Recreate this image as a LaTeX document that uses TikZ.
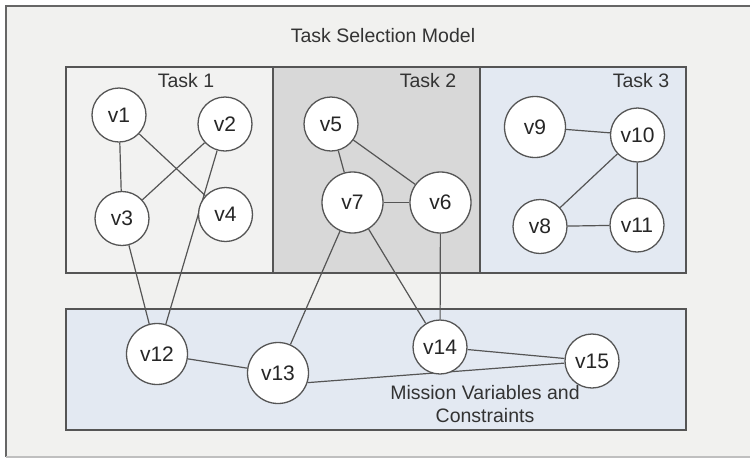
\documentclass[tikz,border=0pt]{standalone}
\usepackage{fontspec}
\setmainfont{Liberation Sans}
\pgfdeclarelayer{bg}
\pgfdeclarelayer{edges}
\pgfsetlayers{bg,edges,main}
\definecolor{framebg}{HTML}{F1F1EF}
\definecolor{taskone}{HTML}{F2F2F1}
\definecolor{tasktwo}{HTML}{D8D8D8}
\definecolor{bluebox}{HTML}{E3E9F2}
\definecolor{boxline}{HTML}{555555}
\definecolor{txt}{HTML}{333333}
\tikzset{
  vnode/.style={circle, draw=boxline, fill=white, line width=1.3pt, inner sep=0pt,
    text=black!85, font=\fontsize{21}{25}\selectfont},
  rs/.style={vnode, minimum size=54pt},
  rb/.style={vnode, minimum size=61pt},
  edge/.style={draw=boxline, line width=1.2pt},
  region/.style={draw=boxline, line width=1.5pt},
  lbl/.style={text=txt, font=\fontsize{19.5}{23}\selectfont, inner sep=0pt}
}
\begin{document}
\begin{tikzpicture}[x=1pt, y=-1pt]
\useasboundingbox (0,0) rectangle (750,459);
\begin{pgfonlayer}{bg}
  \fill[white] (0,0) rectangle (750,459);
  \fill[framebg] (6,6) rectangle (750,457);
  \draw[draw=black!60, line width=1.5pt] (750,6) -- (6,6) -- (6,457);
  \draw[draw=black!25, line width=1.2pt] (6,457) -- (750,457);
  \fill[taskone] (66,67) rectangle (273,273);
  \fill[tasktwo] (273,67) rectangle (480,273);
  \fill[bluebox] (480,67) rectangle (686,273);
  \draw[region] (66,67) rectangle (686,273);
  \draw[region] (273,67) -- (273,273);
  \draw[region] (480,67) -- (480,273);
  \fill[bluebox] (66,309) rectangle (686,430);
  \draw[region] (66,309) rectangle (686,430);
\end{pgfonlayer}

\node[lbl] (title) at (383,35.5) {Task Selection Model};
\node[lbl] (t1) at (186,80.5) {Task 1};
\node[lbl] (t2) at (428,80.5) {Task 2};
\node[lbl] (t3) at (641,80.5) {Task 3};
\node[lbl, align=center] (mv) at (485,404) {Mission Variables and\\Constraints};

\node[rs] (v1) at (119,115) {v1};
\node[rs] (v2) at (225,124) {v2};
\node[rs] (v3) at (122,218.5) {v3};
\node[rs] (v4) at (225.5,214.5) {v4};
\node[rs] (v5) at (331,124) {v5};
\node[rb] (v7) at (352.5,202.5) {v7};
\node[rb] (v6) at (440.5,202.5) {v6};
\node[rb] (v9) at (535,127) {v9};
\node[rs] (v10) at (637.5,135) {v10};
\node[rs] (v8) at (540,226.5) {v8};
\node[rs] (v11) at (637,225) {v11};
\node[rb] (v12) at (157,354) {v12};
\node[rb] (v13) at (278,373) {v13};
\node[rs] (v14) at (440,347) {v14};
\node[rs] (v15) at (592,361) {v15};

\begin{pgfonlayer}{edges}
  \draw[edge] (v1) -- (v3);
  \draw[edge] (v1) -- (v4);
  \draw[edge] (v2) -- (v3);
  \draw[edge] (v2) -- (v12);
  \draw[edge] (v3) -- (v12);
  \draw[edge] (v5) -- (v7);
  \draw[edge] (v5) -- (v6);
  \draw[edge] (v7) -- (v6);
  \draw[edge] (v7) -- (v13);
  \draw[edge] (v7) -- (v14);
  \draw[edge] (v6) -- (v14);
  \draw[edge] (v9) -- (v10);
  \draw[edge] (v10) -- (v8);
  \draw[edge] (v10) -- (v11);
  \draw[edge] (v8) -- (v11);
  \draw[edge] (v12) -- (v13);
  \draw[edge] (v13.-18) -- (v15);
  \draw[edge] (v14) -- (v15);
\end{pgfonlayer}
\end{tikzpicture}
\end{document}
